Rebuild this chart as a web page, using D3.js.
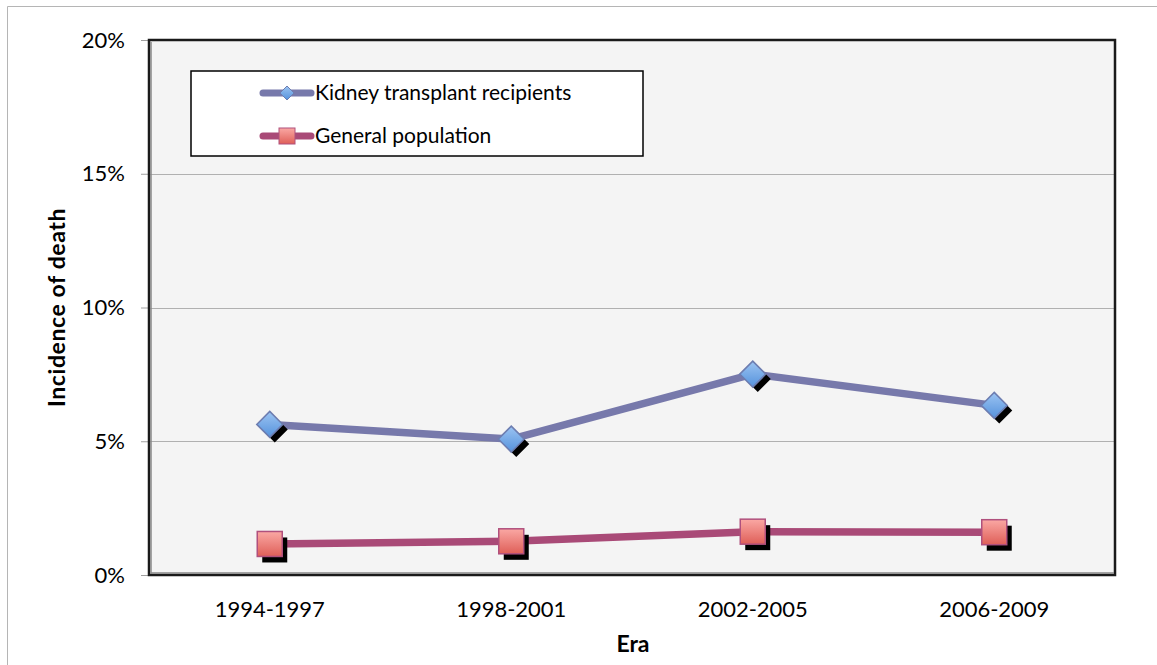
<!DOCTYPE html>
<html>
<head>
<meta charset="utf-8">
<script src="https://cdn.jsdelivr.net/npm/d3@7"></script>
<style>
  html, body { margin: 0; padding: 0; background: #fff; }
  svg { display: block; }
  text { font-family: Lato, "Open Sans", sans-serif; fill: #000; }
</style>
</head>
<body>
<svg id="chart" width="1157" height="665"></svg>
<script>
// Eras on the x axis
const eras = ["1994-1997", "1998-2001", "2002-2005", "2006-2009"];
// Incidence of death (%) per era
const kidneyRecipients = [5.63, 5.08, 7.51, 6.34];
const generalPopulation = [1.16, 1.26, 1.62, 1.60];
// Y axis ticks (%)
const yTicks = [0, 5, 10, 15, 20];

const seriesNames = ["Kidney transplant recipients", "General population"];

const svg = d3.select("#chart");
const W = 1157, H = 665;
const plot = { left: 149, right: 1115, top: 40, bottom: 575 };

// outer frame (top + left edges)
svg.append("line").attr("x1", 7.5).attr("y1", 6.5).attr("x2", W).attr("y2", 6.5)
  .attr("stroke", "#b5b5b5").attr("stroke-width", 1);
svg.append("line").attr("x1", 7.5).attr("y1", 6.5).attr("x2", 7.5).attr("y2", H)
  .attr("stroke", "#b5b5b5").attr("stroke-width", 1);

const x = d3.scaleBand().domain(eras).range([plot.left, plot.right]);
const y = d3.scaleLinear().domain([0, 20]).range([plot.bottom, plot.top]);

const defs = svg.append("defs");
const gBlue = defs.append("linearGradient").attr("id", "gBlue")
  .attr("x1", 0).attr("y1", 0).attr("x2", 0).attr("y2", 1);
gBlue.append("stop").attr("offset", "0%").attr("stop-color", "#9cc4f2");
gBlue.append("stop").attr("offset", "100%").attr("stop-color", "#5592dc");
const gRed = defs.append("linearGradient").attr("id", "gRed")
  .attr("x1", 0).attr("y1", 0).attr("x2", 0).attr("y2", 1);
gRed.append("stop").attr("offset", "0%").attr("stop-color", "#faa8a4");
gRed.append("stop").attr("offset", "100%").attr("stop-color", "#df5f58");

// plot background
svg.append("rect")
  .attr("x", plot.left).attr("y", plot.top)
  .attr("width", plot.right - plot.left).attr("height", plot.bottom - plot.top)
  .attr("fill", "#f4f4f4");

// gridlines
svg.append("g").selectAll("line").data(yTicks.filter(d => d > 0 && d < 20)).join("line")
  .attr("x1", plot.left).attr("x2", plot.right)
  .attr("y1", d => Math.round(y(d)) + 0.5).attr("y2", d => Math.round(y(d)) + 0.5)
  .attr("stroke", "#b0b0b0").attr("stroke-width", 1);

// y axis
const yAxis = d3.axisLeft(y).tickValues(yTicks).tickFormat(d => d + "%").tickSize(8).tickPadding(16);
const gy = svg.append("g").attr("transform", `translate(${plot.left},0)`).call(yAxis);
gy.select(".domain").remove();
gy.selectAll(".tick line").attr("stroke", "#a0a0a0");
gy.selectAll(".tick text").style("font-size", "22px").style("font-family", "Lato, sans-serif");

// x axis labels
const xAxis = d3.axisBottom(x).tickSize(0).tickPadding(26);
const gx = svg.append("g").attr("transform", `translate(0,${plot.bottom})`).call(xAxis);
gx.select(".domain").remove();
gx.selectAll(".tick text").style("font-size", "22px").style("font-family", "Lato, sans-serif");

// plot frame
svg.append("rect")
  .attr("x", plot.left).attr("y", plot.top)
  .attr("width", plot.right - plot.left).attr("height", plot.bottom - plot.top)
  .attr("fill", "none").attr("stroke", "#1a1a1a").attr("stroke-width", 2.5);
svg.append("line").attr("x1", plot.left + 2).attr("x2", plot.left + 2)
  .attr("y1", plot.top + 2).attr("y2", plot.bottom - 1).attr("stroke", "#888").attr("stroke-width", 1.5);
svg.append("line").attr("x1", plot.left + 2).attr("x2", plot.right - 1)
  .attr("y1", plot.bottom - 2).attr("y2", plot.bottom - 2).attr("stroke", "#888").attr("stroke-width", 1.5);

const cx = d => x(d) + x.bandwidth() / 2;
const line = d3.line().x(d => cx(d.era)).y(d => y(d.v));

const series = [
  { name: seriesNames[0], values: kidneyRecipients, color: "#7779ab", marker: "diamond" },
  { name: seriesNames[1], values: generalPopulation, color: "#a94a77", marker: "square" }
];

function drawMarker(g, type, px, py, shadow) {
  if (type === "diamond") {
    const r = 13;
    const pts = [[0, -r], [r, 0], [0, r], [-r, 0]].map(p => [p[0] + px, p[1] + py]);
    if (shadow) {
      g.append("path").attr("d", "M" + pts.map(p => [p[0] + 5, p[1] + 5]).join("L") + "Z").attr("fill", "#000");
    }
    g.append("path").attr("d", "M" + pts.join("L") + "Z")
      .attr("fill", "url(#gBlue)").attr("stroke", "#6d7db0").attr("stroke-width", 1.5);
  } else {
    const s = 25;
    if (shadow) {
      g.append("rect").attr("x", px - s / 2 + 5).attr("y", py - s / 2 + 6)
        .attr("width", s).attr("height", s).attr("fill", "#000");
    }
    g.append("rect").attr("x", px - s / 2).attr("y", py - s / 2)
      .attr("width", s).attr("height", s)
      .attr("fill", "url(#gRed)").attr("stroke", "#b0507d").attr("stroke-width", 1.5);
  }
}

series.forEach(s => {
  const data = eras.map((e, i) => ({ era: e, v: s.values[i] }));
  svg.append("path").datum(data).attr("d", line)
    .attr("fill", "none").attr("stroke", s.color).attr("stroke-width", 7.5)
    .attr("stroke-linejoin", "round").attr("stroke-linecap", "round");
  const gm = svg.append("g");
  data.forEach(d => drawMarker(gm, s.marker, cx(d.era), y(d.v), true));
});

// legend
const lg = svg.append("g");
lg.append("rect").attr("x", 191).attr("y", 71).attr("width", 452).attr("height", 85)
  .attr("fill", "#fff").attr("stroke", "#000").attr("stroke-width", 1.5);
const legendRows = [93, 136];
series.forEach((s, i) => {
  const ly = legendRows[i];
  lg.append("line").attr("x1", 263).attr("x2", 311).attr("y1", ly).attr("y2", ly)
    .attr("stroke", s.color).attr("stroke-width", 7).attr("stroke-linecap", "round");
  if (s.marker === "diamond") {
    const r = 7;
    lg.append("path").attr("d", `M287,${ly - r}L${287 + r},${ly}L287,${ly + r}L${287 - r},${ly}Z`)
      .attr("fill", "url(#gBlue)").attr("stroke", "#6d7db0").attr("stroke-width", 1);
  } else {
    lg.append("rect").attr("x", 287 - 8).attr("y", ly - 8).attr("width", 16).attr("height", 16)
      .attr("fill", "url(#gRed)").attr("stroke", "#b0507d").attr("stroke-width", 1);
  }
  lg.append("text").attr("x", 315).attr("y", ly).attr("dy", "0.35em")
    .style("font-size", "21px").text(s.name);
});

// axis titles
svg.append("text")
  .attr("transform", `translate(65,${(plot.top + plot.bottom) / 2}) rotate(-90)`)
  .attr("text-anchor", "middle").style("font-size", "23px").style("font-weight", "bold")
  .style("letter-spacing", "0.6px")
  .text("Incidence of death");
svg.append("text").attr("x", (plot.left + plot.right) / 2 + 1).attr("y", 652)
  .attr("text-anchor", "middle").style("font-size", "23px").style("font-weight", "bold")
  .text("Era");
</script>
</body>
</html>
